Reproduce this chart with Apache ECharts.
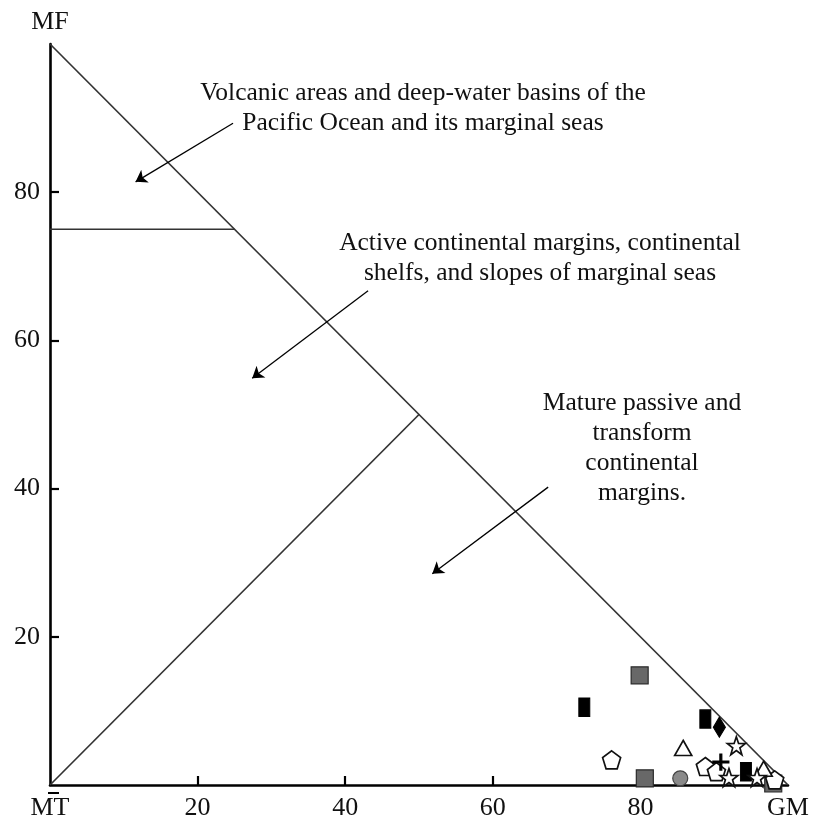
<!DOCTYPE html>
<html>
<head>
<meta charset="utf-8">
<script src="https://cdn.jsdelivr.net/npm/echarts@6/dist/echarts.min.js"></script>
<style>
  html, body { margin: 0; padding: 0; background: #fff; }
  #chart { width: 813px; height: 821px; }
</style>
</head>
<body>
<div id="chart"></div>
<script>
// Ternary-style discrimination diagram MF – MT – GM (percent)
const xTicks = [0, 20, 40, 60, 80, 100];
const yTicks = [20, 40, 60, 80];
const xEndLabels = { 0: 'MT', 100: 'GM' };

// Field boundaries
const hypotenuse = [[0, 100], [100, 0]];
const upperBoundary = [[0, 75], [25, 75]];
const lowerBoundary = [[0, 0], [50, 50]];

// Field labels and their pointer arrows [from, to]
const fieldLabels = [
  'Volcanic areas and deep-water basins of the\nPacific Ocean and its marginal seas',
  'Active continental margins, continental\nshelfs, and slopes of marginal seas',
  'Mature passive and\ntransform\ncontinental\nmargins.'
];
const arrows = [
  [[24.8, 89.3], [11.6, 81.4]],
  [[43.1, 66.7], [27.4, 54.9]],
  [[67.5, 40.2], [51.8, 28.5]]
];

// Samples, grouped by symbol
const graySquares = [[98.0, 0.2], [79.9, 14.8], [80.6, 0.9]];
const grayCircles = [[85.4, 0.9]];
const blackRects = [[72.4, 10.5], [88.8, 8.9], [94.3, 1.8]];
const blackDiamonds = [[90.7, 7.8]];
const pentagons = [[76.1, 3.4], [88.8, 2.5], [90.3, 1.8], [98.2, 0.7]];
const triangles = [[85.8, 5.0], [96.7, 2.2]];
const stars = [[93.0, 5.3], [92.0, 1.0], [95.8, 1.0]];
const crosses = [[90.9, 3.1]];

const FONT = 'Liberation Serif';
const PENTAGON = 'path://M0,-10 L9.51,-3.09 L5.88,8.09 L-5.88,8.09 L-9.51,-3.09 Z';
const STAR = 'path://M0,-10 L2.35,-3.24 L9.51,-3.09 L3.80,1.24 L5.88,8.09 L0,4 L-5.88,8.09 L-3.80,1.24 L-9.51,-3.09 L-2.35,-3.24 Z';
const PLUS = 'path://M-1.2,-10 L1.2,-10 L1.2,-1.2 L10,-1.2 L10,1.2 L1.2,1.2 L1.2,10 L-1.2,10 L-1.2,1.2 L-10,1.2 L-10,-1.2 L-1.2,-1.2 Z';

function boundary(data) {
  return {
    type: 'line', data: data, symbol: 'none', silent: true, z: 2,
    lineStyle: { color: '#333', width: 1.7 }
  };
}
function marks(data, symbol, size, fill, border, z) {
  return {
    type: 'scatter', data: data, symbol: symbol, symbolSize: size, z: z,
    itemStyle: { color: fill, borderColor: border, borderWidth: fill === '#fff' ? 1.7 : 1.2, opacity: 1 }
  };
}

const chart = echarts.init(document.getElementById('chart'), null, { renderer: 'canvas' });
chart.setOption({
  animation: false,
  backgroundColor: '#fff',
  grid: { left: 50, right: 25, top: 44, bottom: 36 },
  xAxis: {
    type: 'value', min: 0, max: 100, interval: 20,
    splitLine: { show: false },
    axisLine: { lineStyle: { color: '#000', width: 2.6 } },
    axisTick: { inside: true, length: 9, customValues: [20, 40, 60, 80], lineStyle: { color: '#000', width: 2.2 } },
    axisLabel: {
      customValues: xTicks, margin: 10,
      fontFamily: FONT, fontSize: 26, color: '#111',
      formatter: v => xEndLabels[v] || String(v)
    }
  },
  yAxis: {
    type: 'value', min: 0, max: 100, interval: 20,
    name: 'MF', nameLocation: 'end', nameGap: 9,
    nameTextStyle: { fontFamily: FONT, fontSize: 26, color: '#111' },
    splitLine: { show: false },
    axisLine: { lineStyle: { color: '#000', width: 2.6 } },
    axisTick: { inside: true, length: 9, customValues: yTicks, lineStyle: { color: '#000', width: 2.2 } },
    axisLabel: { customValues: yTicks, margin: 10, fontFamily: FONT, fontSize: 26, color: '#111' }
  },
  series: [
    boundary(hypotenuse),
    boundary(upperBoundary),
    boundary(lowerBoundary),
    {
      type: 'lines', coordinateSystem: 'cartesian2d', silent: true, z: 3,
      symbol: ['none', 'arrow'], symbolSize: [0, 11],
      lineStyle: { color: '#000', width: 1.3, opacity: 1 },
      data: arrows.map(a => ({ coords: a }))
    },
    marks(graySquares, 'rect', 17, '#686868', '#2a2a2a', 4),
    marks(grayCircles, 'circle', 15, '#8a8a8a', '#444', 4),
    marks(blackRects, 'rect', [11, 18], '#000', '#000', 5),
    marks(blackDiamonds, 'diamond', [12, 20], '#000', '#000', 5),
    marks(pentagons, PENTAGON, 18, '#fff', '#111', 6),
    marks(triangles, 'triangle', [17, 15], '#fff', '#111', 6),
    marks(stars, STAR, 18, '#fff', '#111', 7),
    marks(crosses, PLUS, 16, '#000', '#000', 8)
  ]
});

// Field labels and the small bar above the MT label
const p0 = chart.convertToPixel({ gridIndex: 0 }, [0, 0]);
const textStyle = (t) => ({ text: t, fontFamily: FONT, fontSize: 25.5, fill: '#111', align: 'center', verticalAlign: 'top', lineHeight: 30 });
chart.setOption({
  graphic: [
    { type: 'text', x: 423, y: 78, style: textStyle(fieldLabels[0]) },
    { type: 'text', x: 540, y: 228, style: textStyle(fieldLabels[1]) },
    { type: 'text', x: 642, y: 388, style: textStyle(fieldLabels[2]) },
    { type: 'line', shape: { x1: p0[0] - 2, y1: p0[1] + 8, x2: p0[0] + 9, y2: p0[1] + 8 }, style: { stroke: '#000', lineWidth: 2 } }
  ]
});
</script>
</body>
</html>
